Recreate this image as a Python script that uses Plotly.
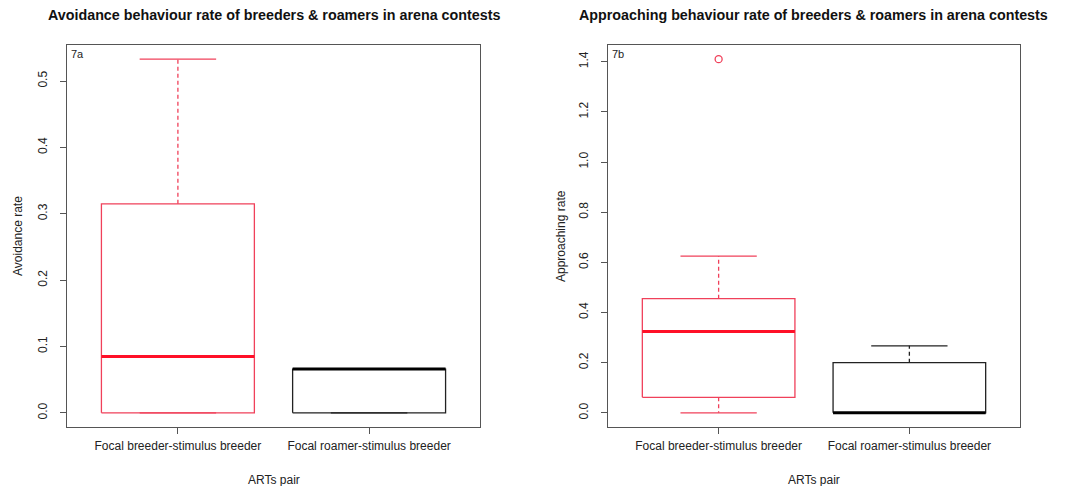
import plotly.graph_objects as go

# ---------------- data ----------------
categories = ["Focal breeder-stimulus breeder", "Focal roamer-stimulus breeder"]
cat_pos = [1, 2]

avoid_lower = [0.0, 0.0]
avoid_q1 = [0.0, 0.0]
avoid_median = [0.085, 0.066]
avoid_q3 = [0.315, 0.066]
avoid_upper = [0.533, 0.066]
avoid_outliers = [[], []]

appr_lower = [0.0, 0.0]
appr_q1 = [0.062, 0.0]
appr_median = [0.324, 0.0]
appr_q3 = [0.455, 0.200]
appr_upper = [0.625, 0.267]
appr_outliers = [[1.41], []]

titles = ["Avoidance behaviour rate of breeders & roamers in arena contests",
          "Approaching behaviour rate of breeders & roamers in arena contests"]
ytitles = ["Avoidance rate", "Approaching rate"]
panel_tags = ["7a", "7b"]
ytick_step = [0.1, 0.2]

# ---------------- style ----------------
W, H = 1072, 486
FONT = "Liberation Sans, Arial, sans-serif"
BOX_COLORS = ["#f0405a", "#222222"]
MED_COLORS = ["#ff1028", "#000000"]
BOXWEX = 0.8
STAPLE = 0.4
FRAME = "#555555"

x_domains = [[67 / W, 480 / W], [608 / W, 1020 / W]]
y_domain = [1 - 427 / H, 1 - 45 / H]

fig = go.Figure()

panels = [
    (avoid_lower, avoid_q1, avoid_median, avoid_q3, avoid_upper, avoid_outliers),
    (appr_lower, appr_q1, appr_median, appr_q3, appr_upper, appr_outliers),
]

for p, (lo, q1, med, q3, up, outs) in enumerate(panels):
    xa = "x" if p == 0 else "x2"
    ya = "y" if p == 0 else "y2"
    for i, xc in enumerate(cat_pos):
        col = BOX_COLORS[i]
        h = BOXWEX / 2
        s = STAPLE / 2
        # whiskers (dashed)
        fig.add_trace(go.Scatter(
            x=[xc, xc, None, xc, xc], y=[q3[i], up[i], None, q1[i], lo[i]],
            mode="lines", line=dict(color=col, width=1.3, dash="4px,3px"),
            xaxis=xa, yaxis=ya, showlegend=False, hoverinfo="skip"))
        # staples
        fig.add_trace(go.Scatter(
            x=[xc - s, xc + s, None, xc - s, xc + s], y=[up[i], up[i], None, lo[i], lo[i]],
            mode="lines", line=dict(color=col, width=1.3),
            xaxis=xa, yaxis=ya, showlegend=False, hoverinfo="skip"))
        # box
        fig.add_trace(go.Scatter(
            x=[xc - h, xc + h, xc + h, xc - h, xc - h],
            y=[q1[i], q1[i], q3[i], q3[i], q1[i]],
            mode="lines", line=dict(color=col, width=1.3),
            xaxis=xa, yaxis=ya, showlegend=False, hoverinfo="skip"))
        # median
        fig.add_trace(go.Scatter(
            x=[xc - h, xc + h], y=[med[i], med[i]],
            mode="lines", line=dict(color=MED_COLORS[i], width=3),
            xaxis=xa, yaxis=ya, showlegend=False, hoverinfo="skip"))
        # outliers
        if outs[i]:
            fig.add_trace(go.Scatter(
                x=[xc] * len(outs[i]), y=outs[i], mode="markers",
                marker=dict(symbol="circle-open", size=7, color=col, line=dict(width=1.3)),
                xaxis=xa, yaxis=ya, showlegend=False, hoverinfo="skip"))

    # ranges (R style 4% expansion)
    allv = lo + up + [v for o in outs for v in o]
    vmin, vmax = min(allv), max(allv)
    pad = 0.04 * (vmax - vmin)
    yr = [vmin - pad, vmax + pad]
    xr = [0.5 - 0.08, len(categories) + 0.5 + 0.08]

    axis_common = dict(showline=True, linecolor=FRAME, linewidth=1, mirror=True,
                       ticks="outside", ticklen=6, tickcolor=FRAME, tickwidth=1,
                       showgrid=False, zeroline=False, automargin=False,
                       tickfont=dict(family=FONT, size=12, color="#222222"))
    xkey = "xaxis" if p == 0 else "xaxis2"
    ykey = "yaxis" if p == 0 else "yaxis2"
    fig.update_layout(**{
        xkey: dict(domain=x_domains[p], range=xr, tickmode="array",
                   tickvals=cat_pos, ticktext=categories, anchor=ya,
                   ticklabelstandoff=2, **axis_common),
        ykey: dict(domain=y_domain, range=yr, dtick=ytick_step[p], tick0=0,
                   tickformat=".1f", tickangle=-90, anchor=xa,
                   ticklabelstandoff=8, **axis_common),
    })

    xc_paper = (x_domains[p][0] + x_domains[p][1]) / 2
    # main title
    fig.add_annotation(text=titles[p], xref="paper", yref="paper",
                       x=xc_paper, y=1 - 15 / H, showarrow=False,
                       xanchor="center", yanchor="middle",
                       font=dict(family=FONT, size=14.3, color="#111111", weight="bold"))
    # x axis title
    fig.add_annotation(text="ARTs pair", xref="paper", yref="paper",
                       x=xc_paper, y=1 - 480 / H, showarrow=False,
                       xanchor="center", yanchor="middle",
                       font=dict(family=FONT, size=12, color="#222222"))
    # y axis title
    yx = (18 if p == 0 else 561) / W
    fig.add_annotation(text=ytitles[p], xref="paper", yref="paper",
                       x=yx, y=(y_domain[0] + y_domain[1]) / 2, showarrow=False,
                       textangle=-90, xanchor="center", yanchor="middle",
                       font=dict(family=FONT, size=12, color="#222222"))
    # panel tag
    fig.add_annotation(text=panel_tags[p], xref=f"{xa} domain", yref=f"{ya} domain",
                       x=0.004, y=0.997, showarrow=False, xanchor="left", yanchor="top",
                       font=dict(family=FONT, size=11, color="#222222"))

fig.update_layout(width=W, height=H, margin=dict(l=0, r=0, t=0, b=0),
                  plot_bgcolor="white", paper_bgcolor="white", showlegend=False)

fig.write_html("out.html")
